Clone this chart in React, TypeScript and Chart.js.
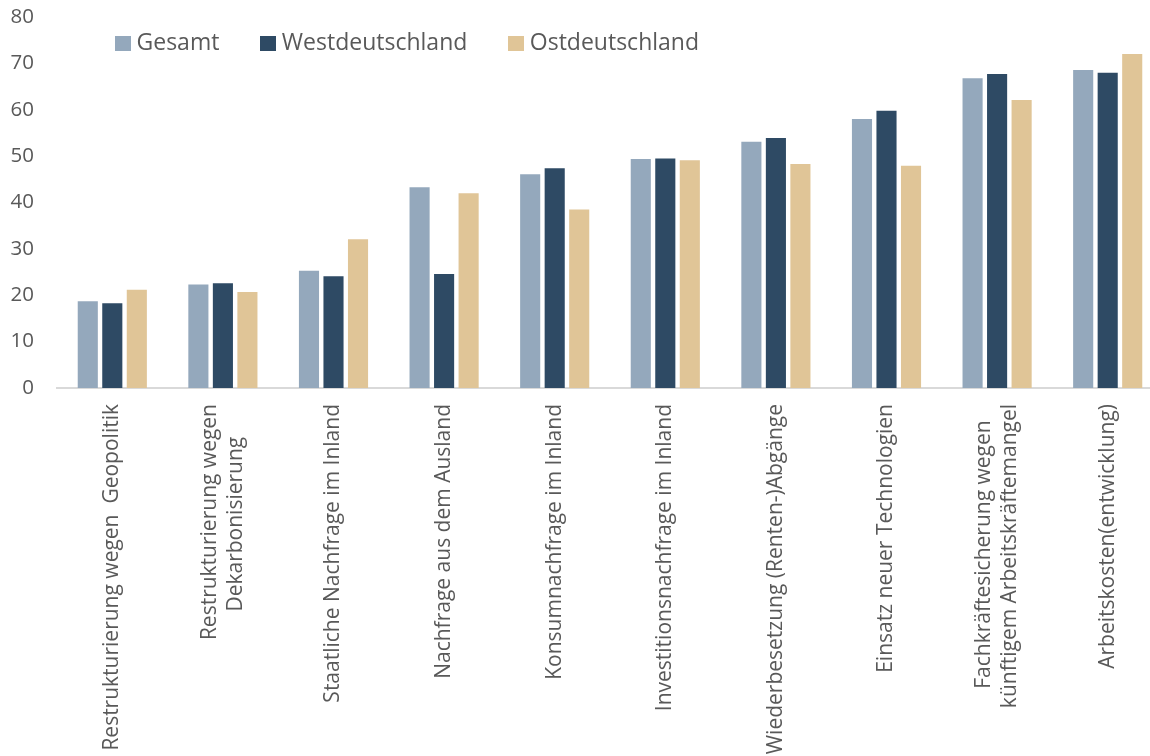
import React, { useEffect, useRef, useState } from "react";
import { Chart, registerables } from "chart.js";

Chart.register(...registerables);

const CATEGORY_LINES: string[][] = [
  ["Restrukturierung wegen  Geopolitik"],
  ["Restrukturierung wegen", "Dekarbonisierung"],
  ["Staatliche Nachfrage im Inland"],
  ["Nachfrage aus dem Ausland"],
  ["Konsumnachfrage im Inland"],
  ["Investitionsnachfrage im Inland"],
  ["Wiederbesetzung (Renten-)Abgänge"],
  ["Einsatz neuer Technologien"],
  ["Fachkräftesicherung wegen", "künftigem Arbeitskräftemangel"],
  ["Arbeitskosten(entwicklung)"],
];

const SERIES_NAMES = ["Gesamt", "Westdeutschland", "Ostdeutschland"];
const GESAMT = [18.7, 22.3, 25.3, 43.3, 46.1, 49.4, 53.1, 58.0, 66.8, 68.6];
const WEST = [18.3, 22.6, 24.1, 24.6, 47.4, 49.5, 53.9, 59.8, 67.7, 68.0];
const OST = [21.2, 20.7, 32.1, 42.0, 38.5, 49.1, 48.3, 47.9, 62.1, 72.0];
const Y_TICKS_MAX = 80;
const Y_TICKS_STEP = 10;

const COLORS = ["#94A8BC", "#2E4A64", "#E0C597"];
const TEXT_COLOR = "#595959";
const FONT = "'Open Sans', 'Noto Sans', sans-serif";
const LABEL_SIZE = 21;
const LABEL_LH = 1.25;
const TICK_SIZE = 20.5;
const LEGEND_SIZE = 23;
const LEGEND_PAD = 47;
const LEGEND_X = 121;
const LEGEND_Y = 32.3;

const CANVAS_W = 1163;
const CANVAS_H = 756;
const AREA_LEFT = 57;
const AREA_TOP = 17;
const AREA_BOTTOM = 388;

function swatch(color: string) {
  const c = document.createElement("canvas");
  c.width = 16;
  c.height = 15;
  const g = c.getContext("2d")!;
  g.fillStyle = color;
  g.fillRect(0, 0, 16, 15);
  return c;
}

function centerLines(lines: string[]): string[] {
  if (lines.length < 2) return lines;
  const c = document.createElement("canvas");
  const g = c.getContext("2d")!;
  g.font = `${LABEL_SIZE}px ${FONT}`;
  const widths = lines.map((l) => g.measureText(l).width);
  const maxW = Math.max(...widths);
  const sp = g.measureText(" ").width;
  return lines.map((l, i) => l + " ".repeat(Math.round((maxW - widths[i]) / 2 / sp)));
}

const placer = {
  id: "placer",
  afterLayout(chart: any) {
    const lg = chart.legend;
    if (lg) {
      lg.left = LEGEND_X - LEGEND_PAD;
      lg.right = lg.left + 1100;
      lg.top = LEGEND_Y - LEGEND_PAD;
      lg.bottom = lg.top + 120;
    }
    const x = chart.scales.x;
    const x2 = chart.scales.x2;
    if (x && x2) {
      x2.top = x.top;
      x2.bottom = x.bottom;
    }
  },
};

function noPad(s: any) {
  s.paddingLeft = 0;
  s.paddingRight = 0;
  s.paddingTop = 0;
  s.paddingBottom = 0;
}

export default function App() {
  const ref = useRef<HTMLCanvasElement | null>(null);
  const [err, setErr] = useState("");

  useEffect(() => {
    if (!ref.current) return;
    let chart: any = null;
    try {
      const centered = CATEGORY_LINES.map(centerLines);
      const labelFont = { family: FONT, size: LABEL_SIZE, lineHeight: LABEL_LH };
      const series = [GESAMT, WEST, OST];
      chart = new Chart(ref.current, {
        type: "bar",
        data: {
          labels: CATEGORY_LINES.map((l) => l.join(" ")),
          datasets: series.map((d, i) => ({
            label: SERIES_NAMES[i],
            data: d,
            backgroundColor: COLORS[i],
            borderWidth: 0,
            categoryPercentage: 0.665,
            barPercentage: 0.82,
          })),
        },
        options: {
          animation: false,
          responsive: false,
          layout: { padding: { top: AREA_TOP, left: 0, right: 0, bottom: 0 } },
          plugins: {
            tooltip: { enabled: false },
            legend: {
              position: "top",
              align: "start",
              maxHeight: 0.01,
              labels: {
                usePointStyle: true,
                pointStyleWidth: 4,
                padding: LEGEND_PAD,
                color: TEXT_COLOR,
                font: { family: FONT, size: LEGEND_SIZE },
                generateLabels: (ch: any) =>
                  ch.data.datasets.map((ds: any, i: number) => ({
                    text: ds.label,
                    fillStyle: ds.backgroundColor,
                    strokeStyle: ds.backgroundColor,
                    lineWidth: 0,
                    pointStyle: swatch(ds.backgroundColor),
                    hidden: false,
                    datasetIndex: i,
                    fontColor: TEXT_COLOR,
                  })),
              },
            },
          },
          scales: {
            x: {
              type: "category",
              position: "bottom",
              weight: 0,
              offset: true,
              grid: { display: false, drawTicks: false },
              border: { display: true, color: "#D9D9D9", width: 2 },
              ticks: {
                autoSkip: false,
                minRotation: 90,
                maxRotation: 90,
                padding: 16,
                color: TEXT_COLOR,
                font: labelFont,
                callback: (_v: any, i: number) =>
                  CATEGORY_LINES[i].length === 1 ? CATEGORY_LINES[i][0] : "",
              },
              afterFit: (s: any) => {
                s.height = CANVAS_H - AREA_BOTTOM;
                noPad(s);
              },
            },
            x2: {
              type: "category",
              position: "bottom",
              weight: 1,
              offset: true,
              grid: { display: false, drawTicks: false },
              border: { display: false },
              ticks: {
                autoSkip: false,
                minRotation: 90,
                maxRotation: 90,
                padding: 16,
                labelOffset: -(LABEL_SIZE * LABEL_LH) / 2,
                color: TEXT_COLOR,
                font: labelFont,
                callback: (_v: any, i: number) =>
                  CATEGORY_LINES[i].length > 1 ? centered[i] : "",
              },
              afterFit: (s: any) => {
                s.height = 0;
                noPad(s);
              },
            },
            y: {
              min: 0,
              max: Y_TICKS_MAX,
              grid: { display: false, drawTicks: false },
              border: { display: false },
              ticks: {
                stepSize: Y_TICKS_STEP,
                padding: 23,
                color: TEXT_COLOR,
                font: { family: FONT, size: TICK_SIZE },
              },
              afterFit: (s: any) => {
                s.width = AREA_LEFT;
                noPad(s);
              },
            },
          },
        },
        plugins: [placer],
      } as any);
    } catch (e: any) {
      setErr(String(e && e.stack ? e.stack : e));
    }
    return () => {
      if (chart) chart.destroy();
    };
  }, []);

  return (
    <div
      style={{
        position: "fixed",
        left: 0,
        top: 0,
        width: 1150,
        height: 756,
        overflow: "hidden",
        background: "#ffffff",
      }}
    >
      <canvas
        ref={ref}
        width={CANVAS_W}
        height={CANVAS_H}
        style={{ display: "block", width: CANVAS_W, height: CANVAS_H }}
      />
      {err ? (
        <pre style={{ position: "absolute", left: 10, top: 10, fontSize: 12, color: "red", whiteSpace: "pre-wrap" }}>
          {err}
        </pre>
      ) : null}
    </div>
  );
}
